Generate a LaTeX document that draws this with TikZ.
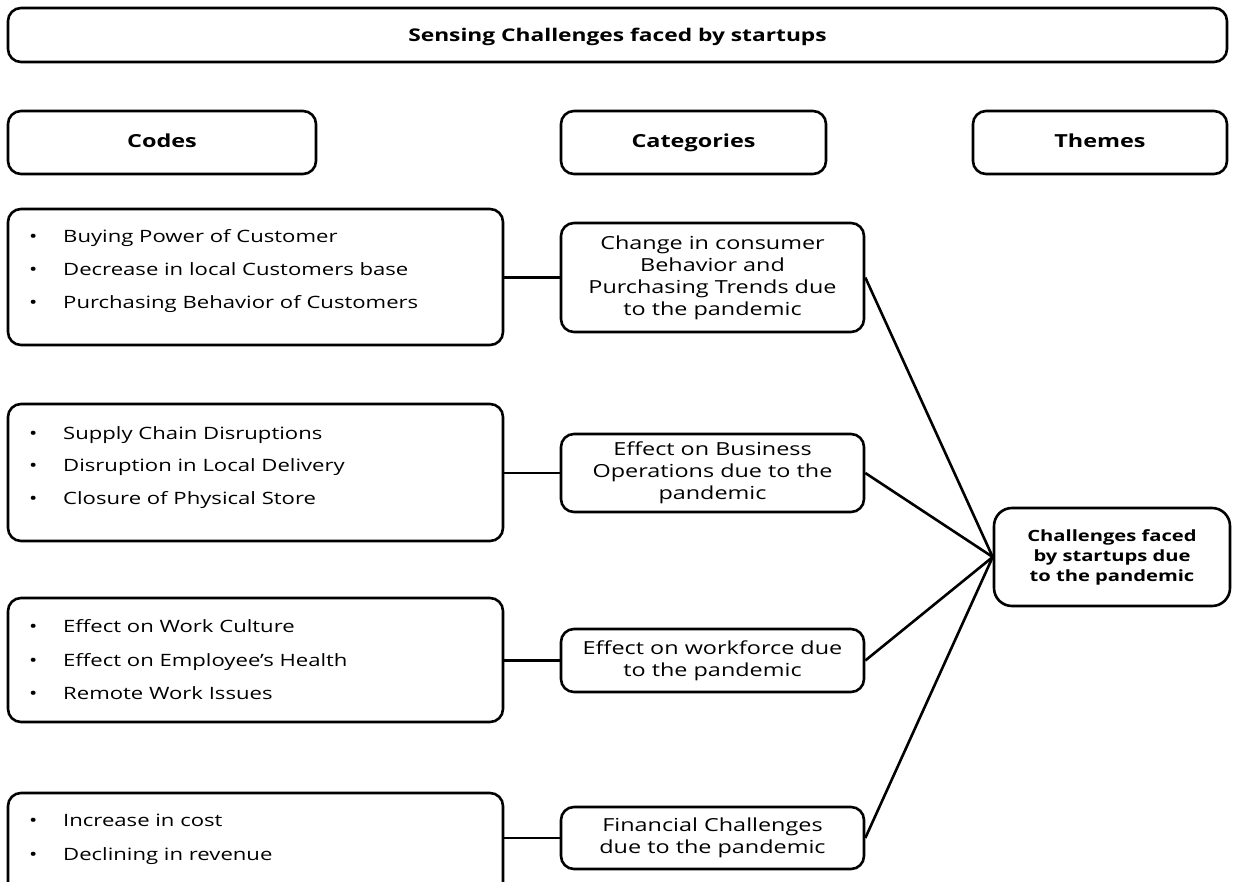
\documentclass[tikz,border=0pt]{standalone}
\usepackage{fontspec}
\setmainfont{Open Sans}[FakeStretch=1.3]
\begin{document}
\begin{tikzpicture}[x=1pt,y=-1pt,
  box/.style={draw, line width=2.6pt, rounded corners=13pt, inner sep=0pt},
  title/.style={font=\fontsize{17.5}{20}\selectfont\bfseries, anchor=base, inner sep=0pt},
  head/.style={font=\fontsize{18}{22}\selectfont\bfseries, anchor=base, inner sep=0pt},
  bul/.style={font=\fontsize{17}{20}\selectfont, anchor=base west, inner sep=0pt},
  cat/.style={font=\fontsize{18}{22}\selectfont, align=center},
  thm/.style={font=\fontsize{15.5}{20}\selectfont\bfseries, align=center},
  conn/.style={line width=2.6pt}]
\useasboundingbox (0,0) rectangle (1234,882);
\clip (0,0) rectangle (1234,882);
% headers
\node[box, minimum width=1219pt, minimum height=54pt] (title) at (617.5,35) {};
\node[title] (titlet) at (617.5,41.5) {Sensing Challenges faced by startups};
\node[box, minimum width=308pt, minimum height=63pt] (codes) at (162,142.5) {};
\node[head] (codest) at (162,148) {Codes};
\node[box, minimum width=265pt, minimum height=63pt] (cats) at (693.5,142.5) {};
\node[head] (catst) at (693.5,148) {Categories};
\node[box, minimum width=254pt, minimum height=63pt] (thms) at (1100,142.5) {};
\node[head] (thmst) at (1100,148) {Themes};
% code boxes
\node[box, minimum width=495pt, minimum height=136pt] (code1) at (255.5,277) {};
\node[box, minimum width=495pt, minimum height=137pt] (code2) at (255.5,472.5) {};
\node[box, minimum width=495pt, minimum height=124pt] (code3) at (255.5,660) {};
\node[box, minimum width=495pt, minimum height=112pt] (code4) at (255.5,849) {};
% bullets
\foreach \y/\t [count=\i] in {243/Buying Power of Customer, 276/Decrease in local Customers base, 309/Purchasing Behavior of Customers,
  439/Supply Chain Disruptions, 471/Disruption in Local Delivery, 504/Closure of Physical Store,
  632/Effect on Work Culture, 666/Effect on Employee’s Health, 699/Remote Work Issues,
  826/Increase in cost, 860/Declining in revenue}{
  \node[bul] (b\i) at (29,\y) {•};
  \node[bul] (t\i) at (63,\y) {\t};
}
% category boxes
\node[box, minimum width=303pt, minimum height=109pt] (cat1) at (712.5,277.5) {};
\node[cat] (cat1t) at (712.5,277.5) {Change in consumer\\Behavior and\\Purchasing Trends due\\to the pandemic};
\node[box, minimum width=303pt, minimum height=78pt] (cat2) at (712.5,473) {};
\node[cat] (cat2t) at (712.5,473) {Effect on Business\\Operations due to the\\pandemic};
\node[box, minimum width=303pt, minimum height=63pt] (cat3) at (712.5,660.5) {};
\node[cat] (cat3t) at (712.5,660.5) {Effect on workforce due\\to the pandemic};
\node[box, minimum width=303pt, minimum height=62pt] (cat4) at (712.5,838) {};
\node[cat] (cat4t) at (712.5,838) {Financial Challenges\\due to the pandemic};
% theme
\node[box, rounded corners=18pt, minimum width=236pt, minimum height=98pt] (thm) at (1112,557) {};
\node[thm] (thmt) at (1112,557) {Challenges faced\\by startups due\\to the pandemic};
% connectors
\foreach \i in {1,2,3,4}{
  \draw[conn] (cat\i.west) -- (cat\i.west -| code\i.east);
  \draw[conn] (cat\i.east) -- (thm.west);
}
\end{tikzpicture}
\end{document}
